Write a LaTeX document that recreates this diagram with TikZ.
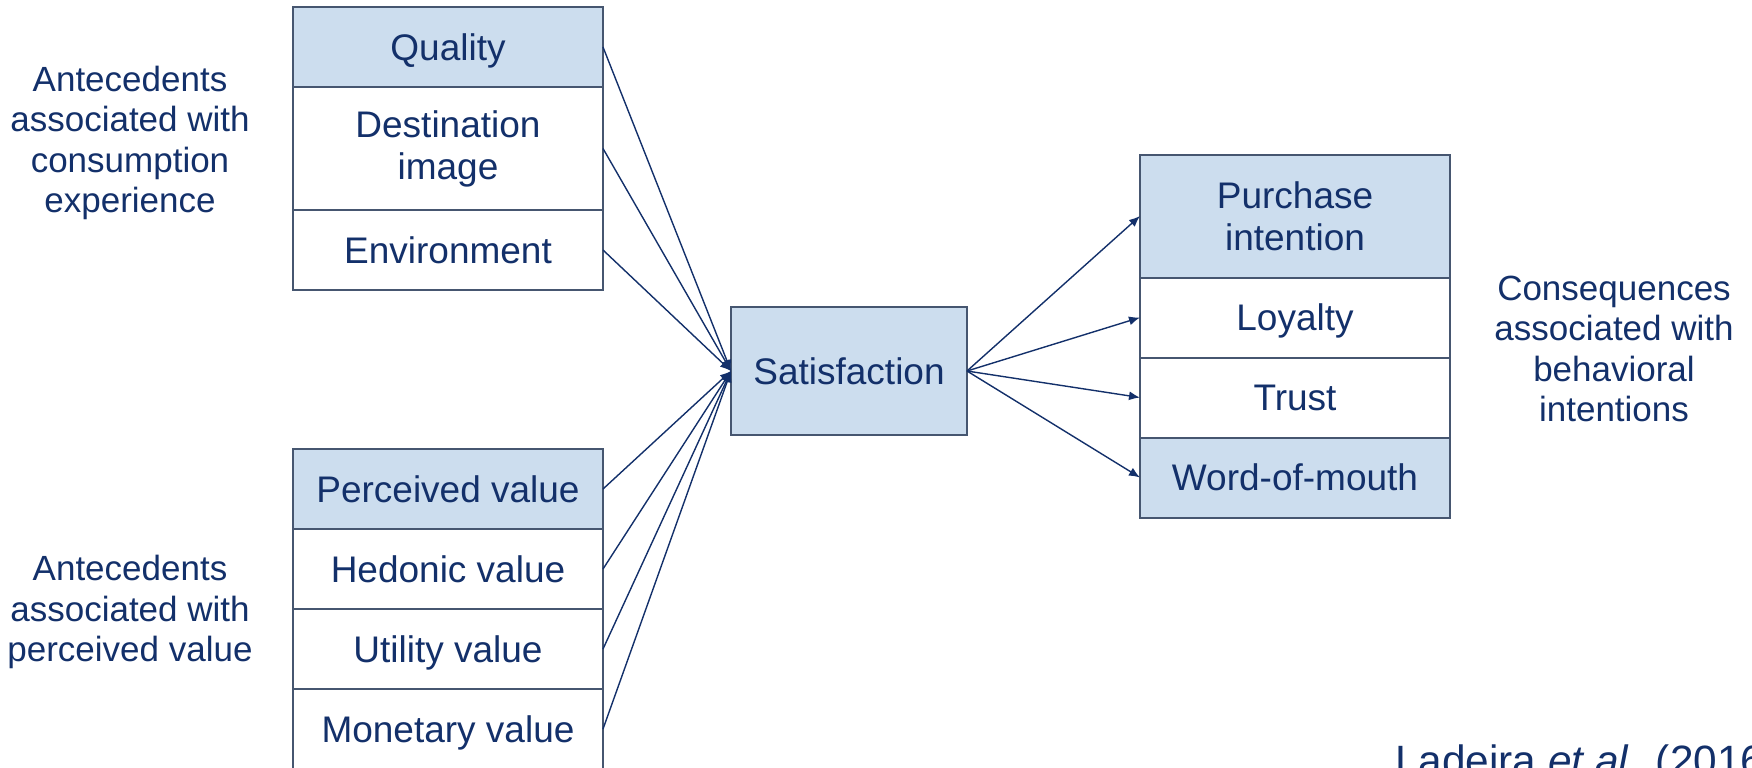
\documentclass[tikz,border=0pt]{standalone}
\usepackage{fontspec}
\setmainfont{Liberation Sans}
\usetikzlibrary{positioning,arrows.meta}

\definecolor{navy}{HTML}{13306A}
\definecolor{paleblue}{HTML}{CCDDEE}
\definecolor{edgeblue}{HTML}{465670}

\begin{document}
\begin{tikzpicture}[
			x=0.5pt, y=0.5pt,
			node distance=0pt,
			every node/.style={text=navy, font=\fontsize{18.5}{21}\selectfont},
			cellbox/.style={rectangle, draw=edgeblue, line width=1pt, outer sep=0pt, minimum width=155pt, align=center},
			keycell/.style={cellbox, fill=paleblue, minimum height=40pt, text height=13pt, text depth=0pt},
			subcell/.style={cellbox, fill=white, minimum height=40pt, text height=13pt, text depth=0pt},
			tallcell/.style={cellbox, minimum height=61.5pt},
			sidetext/.style={align=center, font=\fontsize{17.5}{20.2}\selectfont},
			link/.style={draw=navy, line width=0.7pt, -{Latex[length=5.5pt,width=4.5pt]}},
			]
			\useasboundingbox (0,0) rectangle (1752,-767);

			%Nodes
			\node[keycell] (quality) 					at (448,-47) {Quality};
			\node[tallcell, fill=white] (destination)	[below=of quality] {Destination\\image};
			\node[subcell] (environment)   [below=of destination] {Environment};

			\node[keycell] (perceived) 					at (448,-489) {Perceived value};
			\node[subcell] (hedonic)	[below=of perceived] {Hedonic value};
			\node[subcell] (utility)   [below=of hedonic] {Utility value};
			\node[subcell] (monetary)   [below=of utility] {Monetary value};

			\node[keycell, minimum width=118pt, minimum height=64pt] (satisfaction) at (849,-371) {Satisfaction};

			\node[tallcell, fill=paleblue] (purchase) 	at (1295,-216) {Purchase\\intention};
			\node[subcell] (loyalty)   [below=of purchase] {Loyalty};
			\node[subcell] (trust)   [below=of loyalty] {Trust};
			\node[keycell] (wordofmouth)   [below=of trust] {Word-of-mouth};

			\node[sidetext] (consumption) at (130,-143) {Antecedents\\associated with\\consumption\\experience};
			\node[sidetext] (valuelabel) at (130,-612) {Antecedents\\associated with\\perceived value};
			\node[sidetext] (consequences) at (1614,-349) {Consequences\\associated with\\behavioral\\intentions};

			\node[anchor=base west, font=\fontsize{21.2}{25}\selectfont] (source) at (1388,-775) {Ladeira \textit{et al.} (2016)};

			%Links
			\foreach \cell in {quality, destination, environment, perceived, hedonic, utility, monetary}
				\draw[link] (\cell.east) -- (satisfaction.west);
			\foreach \cell in {purchase, loyalty, trust, wordofmouth}
				\draw[link] (satisfaction.east) -- (\cell.west);
		\end{tikzpicture}
\end{document}
